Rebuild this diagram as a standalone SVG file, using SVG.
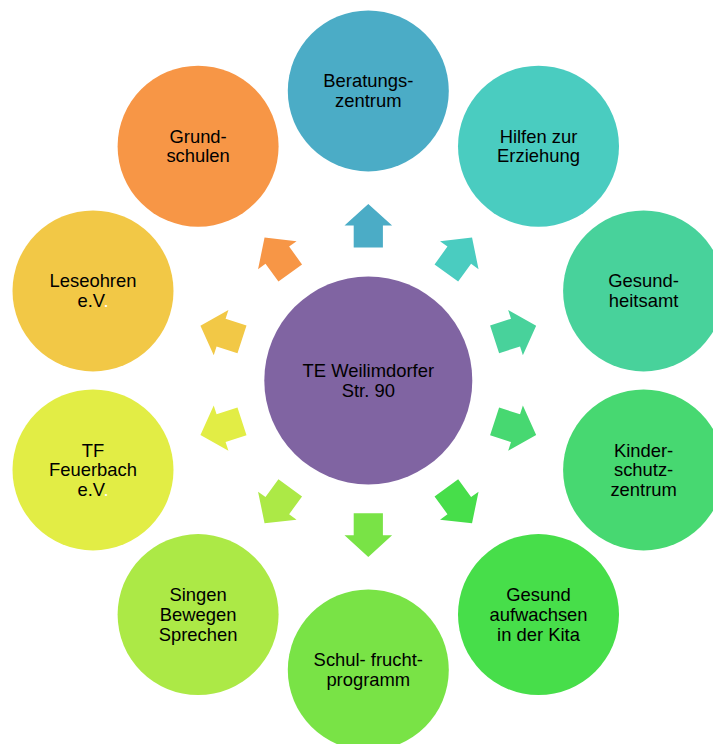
<svg xmlns="http://www.w3.org/2000/svg" xmlns:xlink="http://www.w3.org/1999/xlink" width="713" height="744" viewBox="0 0 713 744">
  <style>
    text { font-family: "Liberation Sans", Arial, sans-serif; font-size: 18.4px; fill: #000; text-anchor: middle; }
    .dot { fill: #ffffff; }
  </style>
  <defs>
    <!-- block arrow pointing up, drawn relative to the hub centre -->
    <path id="arrow" d="M0,-176.5 L23.8,-154.8 L14.6,-154.8 L14.6,-132.8 L-14.6,-132.8 L-14.6,-154.8 L-23.8,-154.8 Z"/>
  </defs>
  <rect width="713" height="744" fill="#ffffff"/>

  <g id="connectors">
    <use xlink:href="#arrow" href="#arrow" transform="translate(368.3,380.4) rotate(0)" fill="#4BACC6"/>
    <use xlink:href="#arrow" href="#arrow" transform="translate(368.3,380.4) rotate(36)" fill="#4ACCC0"/>
    <use xlink:href="#arrow" href="#arrow" transform="translate(368.3,380.4) rotate(72)" fill="#48D29B"/>
    <use xlink:href="#arrow" href="#arrow" transform="translate(368.3,380.4) rotate(108)" fill="#47D871"/>
    <use xlink:href="#arrow" href="#arrow" transform="translate(368.3,380.4) rotate(144)" fill="#47DE4A"/>
    <use xlink:href="#arrow" href="#arrow" transform="translate(368.3,380.4) rotate(180)" fill="#79E346"/>
    <use xlink:href="#arrow" href="#arrow" transform="translate(368.3,380.4) rotate(216)" fill="#ACE946"/>
    <use xlink:href="#arrow" href="#arrow" transform="translate(368.3,380.4) rotate(252)" fill="#E2ED45"/>
    <use xlink:href="#arrow" href="#arrow" transform="translate(368.3,380.4) rotate(288)" fill="#F2C846"/>
    <use xlink:href="#arrow" href="#arrow" transform="translate(368.3,380.4) rotate(324)" fill="#F79646"/>
  </g>

  <g id="hub">
    <circle cx="368.3" cy="380.4" r="104" fill="#8064A2"/>
    <text x="368.3" y="376.9">TE Weilimdorfer</text>
    <text x="368.3" y="396.5">Str. 90</text>
  </g>

  <g id="beratungszentrum">
    <circle cx="368.3" cy="90.9" r="80.5" fill="#4BACC6"/>
    <text x="368.3" y="87.4">Beratungs-</text>
    <text x="368.3" y="107">zentrum</text>
  </g>

  <g id="hilfen-zur-erziehung">
    <circle cx="538.5" cy="146.2" r="80.5" fill="#4ACCC0"/>
    <text x="538.5" y="142.7">Hilfen zur</text>
    <text x="538.5" y="162.3">Erziehung</text>
  </g>

  <g id="gesundheitsamt">
    <circle cx="643.6" cy="290.9" r="80.5" fill="#48D29B"/>
    <text x="643.6" y="287.4">Gesund-</text>
    <text x="643.6" y="307">heitsamt</text>
  </g>

  <g id="kinderschutzzentrum">
    <circle cx="643.6" cy="469.9" r="80.5" fill="#47D871"/>
    <text x="643.6" y="456.5">Kinder-</text>
    <text x="643.6" y="476.2">schutz-</text>
    <text x="643.6" y="495.8">zentrum</text>
  </g>

  <g id="gesund-aufwachsen">
    <circle cx="538.5" cy="614.6" r="80.5" fill="#47DE4A"/>
    <text x="538.5" y="601.2">Gesund</text>
    <text x="538.5" y="620.9">aufwachsen</text>
    <text x="538.5" y="640.5">in der Kita</text>
  </g>

  <g id="schulfruchtprogramm">
    <circle cx="368.3" cy="669.9" r="80.5" fill="#79E346"/>
    <text x="368.3" y="666.4">Schul- frucht-</text>
    <text x="368.3" y="686">programm</text>
  </g>

  <g id="singen-bewegen-sprechen">
    <circle cx="198.1" cy="614.6" r="80.5" fill="#ACE946"/>
    <text x="198.1" y="601.2">Singen</text>
    <text x="198.1" y="620.9">Bewegen</text>
    <text x="198.1" y="640.5">Sprechen</text>
  </g>

  <g id="tf-feuerbach">
    <circle cx="93" cy="469.9" r="80.5" fill="#E2ED45"/>
    <text x="93" y="456.5">TF</text>
    <text x="93" y="476.2">Feuerbach</text>
    <text x="93" y="495.8">e.V<tspan class="dot">.</tspan></text>
  </g>

  <g id="leseohren">
    <circle cx="93" cy="290.9" r="80.5" fill="#F2C846"/>
    <text x="93" y="287.4">Leseohren</text>
    <text x="93" y="307">e.V<tspan class="dot">.</tspan></text>
  </g>

  <g id="grundschulen">
    <circle cx="198.1" cy="146.2" r="80.5" fill="#F79646"/>
    <text x="198.1" y="142.7">Grund-</text>
    <text x="198.1" y="162.3">schulen</text>
  </g>
</svg>
